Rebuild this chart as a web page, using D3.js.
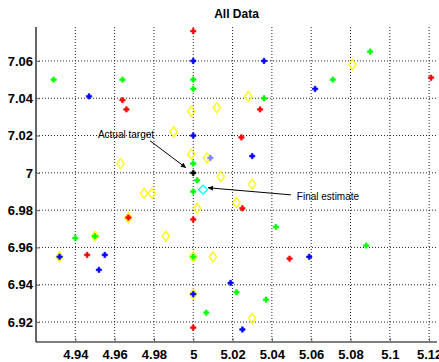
<!DOCTYPE html>
<html>
<head>
<meta charset="utf-8">
<script src="https://cdn.jsdelivr.net/npm/d3@7"></script>
<style>
  html, body { margin: 0; padding: 0; background: #fff; }
  svg { display: block; }
</style>
</head>
<body>
<div id="chart"></div>
<script>
// tick values
const xTicks = [4.94, 4.96, 4.98, 5, 5.02, 5.04, 5.06, 5.08, 5.1, 5.12];
const yTicks = [6.92, 6.94, 6.96, 6.98, 7, 7.02, 7.04, 7.06];

// measurements, [x, y]
const redPts = [[4.964,7.039],[4.966,7.034],[5,7.076],[5.034,7.034],[5.0245,7.019],[5.121,7.051],
  [5.025,6.981],[5,6.975],[4.967,6.976],[4.946,6.956],[5.049,6.954],[5,6.917]];
const bluePts = [[4.947,7.041],[5,7.060],[5,7.020],[5.036,7.060],[5.062,7.045],[5.030,7.009],
  [4.932,6.955],[4.955,6.956],[4.952,6.948],[5,6.935],[5.019,6.941],[5.025,6.916],[5.059,6.955]];
const greenPts = [[4.929,7.050],[4.964,7.050],[5,7.050],[5,7.045],[5,7.005],[5.036,7.040],[5.071,7.050],
  [5.090,7.065],[5.002,6.996],[5,6.990],[5.042,6.971],[4.940,6.965],[4.950,6.966],[5,6.955],
  [5.0066,6.925],[5.022,6.936],[5.037,6.932],[5.088,6.961]];
const yellowPts = [[4.963,7.005],[4.999,7.033],[5.012,7.035],[4.990,7.022],[4.999,7.010],[5.007,7.008],
  [5.081,7.058],[5.028,7.041],[5.014,6.998],[5.030,6.994],[5.022,6.984],[5.002,6.981],[4.975,6.989],
  [4.979,6.989],[4.967,6.976],[4.986,6.966],[4.950,6.966],[4.932,6.955],[5,6.955],[5.010,6.955],
  [5,6.935],[5.030,6.922]];
const extraPts = [[5.0087,7.008]];
const targetPt = [5, 7];
const estimatePt = [5.005, 6.991];

// annotations: label position, arrow start, arrow tip
const annotations = [
  { text: "Actual target", label: [4.9515, 7.0205], from: [4.978, 7.0172], to: [4.9963, 7.0027], anchor: "start" },
  { text: "Final estimate", label: [5.0527, 6.9872], from: [5.0497, 6.9882], to: [5.0075, 6.992], anchor: "start" }
];

const W = 439, H = 362;
const mLeft = 36, mRight = 437, mTop = 27, mBottom = 342;

const x = d3.scaleLinear().domain([4.92, 5.124]).range([mLeft, mRight]);
const y = d3.scaleLinear().domain([6.9093, 7.0782]).range([mBottom, mTop]);

const svg = d3.select("#chart").append("svg")
  .attr("width", W).attr("height", H);

svg.append("defs").append("marker")
  .attr("id", "arrowhead")
  .attr("viewBox", "0 0 10 10")
  .attr("refX", 10).attr("refY", 5)
  .attr("markerWidth", 9).attr("markerHeight", 5)
  .attr("markerUnits", "userSpaceOnUse")
  .attr("orient", "auto")
  .append("path")
  .attr("d", "M0,0 L10,5 L0,10 Z")
  .attr("fill", "#000");

// grid
const grid = svg.append("g").attr("class", "grid");
grid.selectAll("line.v").data(xTicks).enter().append("line")
  .attr("class", "v")
  .attr("x1", d => x(d)).attr("x2", d => x(d))
  .attr("y1", mTop).attr("y2", mBottom)
  .attr("stroke", "#222").attr("stroke-width", 1)
  .attr("stroke-dasharray", "1,2");
grid.selectAll("line.h").data(yTicks).enter().append("line")
  .attr("class", "h")
  .attr("y1", d => y(d)).attr("y2", d => y(d))
  .attr("x1", mLeft).attr("x2", mRight)
  .attr("stroke", "#222").attr("stroke-width", 1)
  .attr("stroke-dasharray", "1,2");

// axes
const xAxis = svg.append("g")
  .attr("transform", `translate(0,${mBottom})`)
  .call(d3.axisBottom(x).tickValues(xTicks).tickSize(-4).tickPadding(8).tickFormat(d3.format("")));
const yAxis = svg.append("g")
  .attr("transform", `translate(${mLeft},0)`)
  .call(d3.axisLeft(y).tickValues(yTicks).tickSize(-4).tickPadding(3).tickFormat(d3.format("")));

[xAxis, yAxis].forEach(a => {
  a.select(".domain").attr("stroke", "#000").attr("stroke-width", 1.2);
  a.selectAll(".tick line").attr("stroke", "#666");
  a.selectAll("text")
    .attr("fill", "#000")
    .attr("font-family", "'Liberation Sans', Arial, sans-serif")
    .attr("font-size", "13px")
    .attr("font-weight", "bold");
});
xAxis.select(".domain").attr("d", `M${mLeft},0H${mRight}`);
yAxis.select(".domain").attr("d", `M0,${mTop}V${mBottom}`);

// title
svg.append("text")
  .attr("x", (mLeft + mRight) / 2)
  .attr("y", 18)
  .attr("text-anchor", "middle")
  .attr("font-family", "'Liberation Sans', Arial, sans-serif")
  .attr("font-size", "12px")
  .attr("font-weight", "bold")
  .text("All Data");

const cross = d3.symbol().type(d3.symbolCross).size(16);
const plot = svg.append("g");

function diamond(w, h) {
  return `M0,${-h} L${w},0 L0,${h} L${-w},0 Z`;
}

// yellow diamonds first, coloured markers on top
plot.selectAll("path.yel").data(yellowPts).enter().append("path")
  .attr("class", "yel")
  .attr("transform", d => `translate(${x(d[0])},${y(d[1])})`)
  .attr("d", diamond(3.6, 5))
  .attr("fill", "none")
  .attr("stroke", "#ffff00")
  .attr("stroke-width", 1.3);

const crossSeries = [
  { pts: redPts, color: "#ff0000" },
  { pts: bluePts, color: "#0000ff" },
  { pts: greenPts, color: "#00ff00" },
  { pts: extraPts, color: "#8080ff" },
  { pts: [targetPt], color: "#000000" }
];
crossSeries.forEach(s => {
  plot.append("g").selectAll("path").data(s.pts).enter().append("path")
    .attr("transform", d => `translate(${x(d[0])},${y(d[1])})`)
    .attr("d", cross)
    .attr("fill", s.color)
    .attr("stroke", s.color)
    .attr("stroke-width", 0.6);
});

plot.append("path")
  .attr("transform", `translate(${x(estimatePt[0])},${y(estimatePt[1])})`)
  .attr("d", diamond(4.5, 4.5))
  .attr("fill", "none")
  .attr("stroke", "#00ffff")
  .attr("stroke-width", 1.3);

// annotations
const ann = svg.append("g");
annotations.forEach(a => {
  ann.append("line")
    .attr("x1", x(a.from[0])).attr("y1", y(a.from[1]))
    .attr("x2", x(a.to[0])).attr("y2", y(a.to[1]))
    .attr("stroke", "#000").attr("stroke-width", 1)
    .attr("marker-end", "url(#arrowhead)");
  ann.append("text")
    .attr("x", x(a.label[0])).attr("y", y(a.label[1]))
    .attr("dy", "0.35em")
    .attr("text-anchor", a.anchor)
    .attr("font-family", "'Liberation Sans', Arial, sans-serif")
    .attr("font-size", "10px")
    .attr("fill", "#000")
    .text(a.text);
});
</script>
</body>
</html>
